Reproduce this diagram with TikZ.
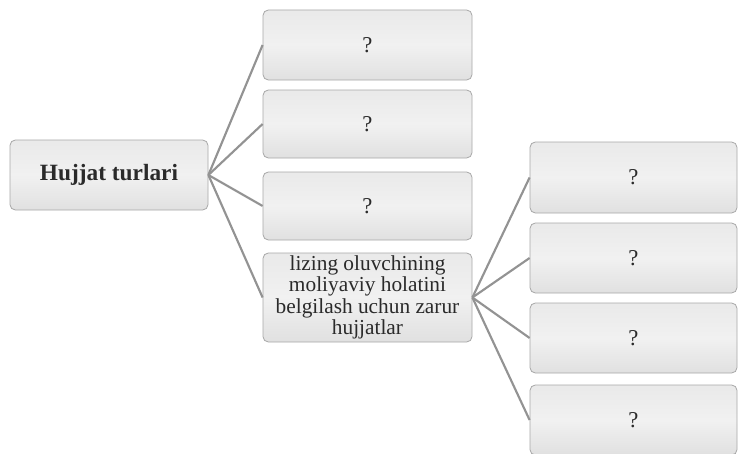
\documentclass[tikz,border=0pt]{standalone}
\usepackage{fontspec}
\setmainfont{Liberation Serif}
\definecolor{txt}{HTML}{2A2A2A}
\definecolor{edge}{HTML}{A8A8A8}
\definecolor{conn}{HTML}{939393}
\tikzset{
  box/.style={draw=edge, line width=0.6pt, rounded corners=4pt,
    top color=gray!17, bottom color=gray!24, middle color=gray!11,
    inner sep=0pt, align=center, text=txt},
  midbox/.style={box, minimum width=209*0.75pt},
  rbox/.style={box, minimum width=207*0.75pt},
  conn/.style={draw=conn, line width=1.6pt},
  qfont/.style={font=\fontsize{17}{19}\selectfont}
}
\begin{document}
\begin{tikzpicture}[x=0.75pt,y=-0.75pt]
\clip (0,0) rectangle (738,453);
\fill[white] (0,0) rectangle (738,453);
% left
\node[box, minimum width=198*0.75pt, minimum height=70*0.75pt,
      font=\fontsize{17.5}{19}\selectfont\bfseries] (root) at (109,175) {Hujjat turlari};
% middle column
\node[midbox, minimum height=70*0.75pt, qfont] (m1) at (367.5,45) {?};
\node[midbox, minimum height=68*0.75pt, qfont] (m2) at (367.5,124) {?};
\node[midbox, minimum height=68*0.75pt, qfont] (m3) at (367.5,206) {?};
\node[midbox, minimum height=89*0.75pt, font=\fontsize{16}{16}\selectfont] (m4) at (367.5,297.5)
  {lizing oluvchining\\moliyaviy holatini\\belgilash uchun zarur\\hujjatlar};
% right column
\node[rbox, minimum height=71*0.75pt, qfont] (r1) at (633.5,177.5) {?};
\node[rbox, minimum height=70*0.75pt, qfont] (r2) at (633.5,258) {?};
\node[rbox, minimum height=70*0.75pt, qfont] (r3) at (633.5,338) {?};
\node[rbox, minimum height=70*0.75pt, qfont] (r4) at (633.5,420) {?};
% connectors
\foreach \t in {m1,m2,m3,m4} \draw[conn] (root.east) -- (\t.west);
\foreach \t in {r1,r2,r3,r4} \draw[conn] (m4.east) -- (\t.west);
\end{tikzpicture}
\end{document}
